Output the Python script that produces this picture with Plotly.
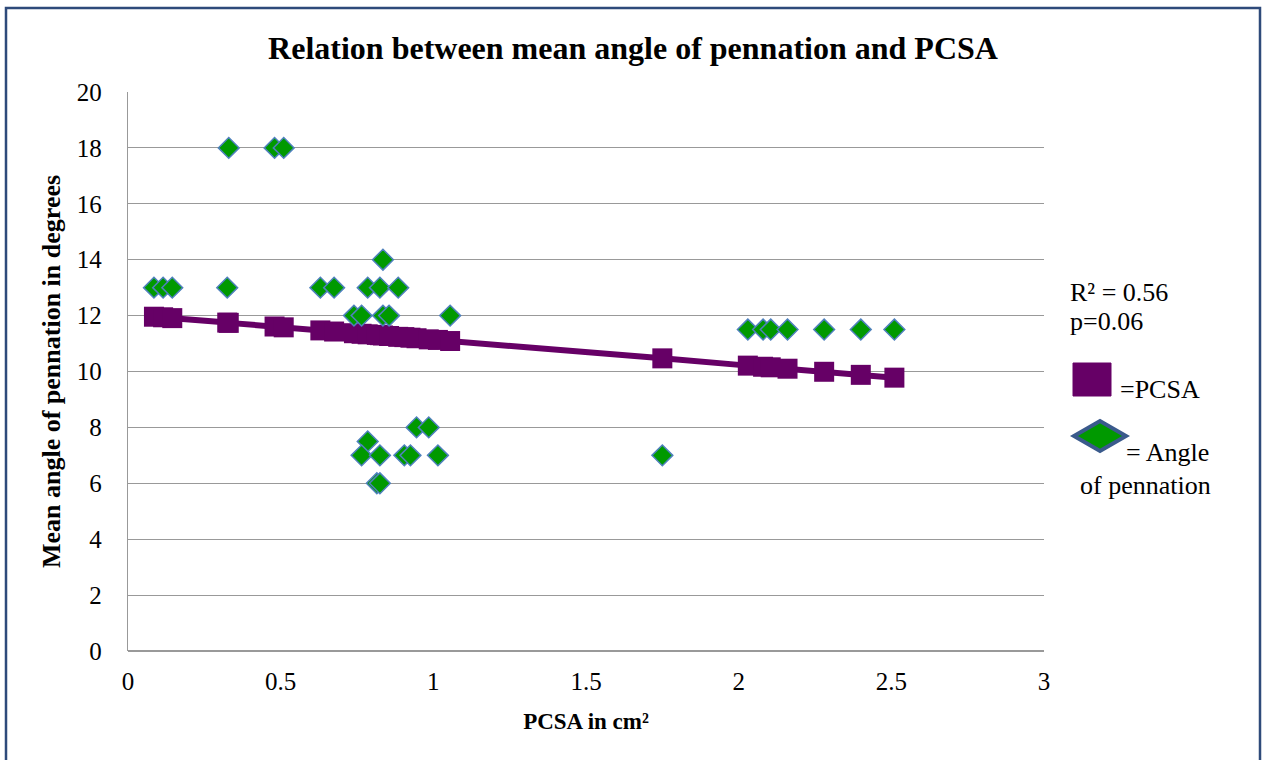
import plotly.graph_objects as go

# Angle of pennation (green diamonds): PCSA in cm² vs mean angle in degrees
angle_pcsa = [0.33, 0.48, 0.51,
              0.085, 0.115, 0.145, 0.325, 0.63, 0.675, 0.785, 0.825, 0.885,
              0.835,
              0.74, 0.765, 0.835, 0.855, 1.055,
              0.945, 0.985,
              0.785,
              0.765, 0.825, 0.905, 0.925, 1.015, 1.75,
              0.815, 0.825,
              2.03, 2.08, 2.105, 2.16, 2.28, 2.40, 2.51]
angle_deg = [18, 18, 18,
             13, 13, 13, 13, 13, 13, 13, 13, 13,
             14,
             12, 12, 12, 12, 12,
             8, 8,
             7.5,
             7, 7, 7, 7, 7, 7,
             6, 6,
             11.5, 11.5, 11.5, 11.5, 11.5, 11.5, 11.5]

# PCSA series (purple squares on the fitted line)
fit_pcsa = [0.085, 0.115, 0.145, 0.325, 0.33, 0.48, 0.51, 0.63, 0.675, 0.74,
            0.765, 0.785, 0.815, 0.825, 0.835, 0.855, 0.885, 0.905, 0.925, 0.945,
            0.985, 1.015, 1.055, 1.75, 2.03, 2.08, 2.105, 2.16, 2.28, 2.40, 2.51]
fit_deg = [11.96, 11.94, 11.91, 11.75, 11.74, 11.61, 11.58, 11.47, 11.43, 11.37,
           11.35, 11.33, 11.31, 11.30, 11.29, 11.27, 11.24, 11.23, 11.21, 11.19,
           11.15, 11.13, 11.09, 10.47, 10.21, 10.17, 10.15, 10.10, 9.99, 9.88, 9.78]

x_ticks = [0, 0.5, 1, 1.5, 2, 2.5, 3]
x_labels = ["0", "0.5", "1", "1.5", "2", "2.5", "3"]
y_ticks = [0, 2, 4, 6, 8, 10, 12, 14, 16, 18, 20]
y_labels = [str(v) for v in y_ticks]

FONT = "Liberation Serif, serif"
PURPLE = "#660066"
GREEN = "#009900"
EDGE = "#4F81BD"

# plot area in page pixels: left 128, right 1044, top 92, bottom 651
L, R, T, B = 128, 1044, 92, 651
W, H = R - L, B - T


def px(x):
    return (x - L) / W


def py(y):
    return (B - y) / H


fig = go.Figure()

fig.add_trace(go.Scatter(
    x=fit_pcsa, y=fit_deg,
    mode="lines+markers",
    line=dict(color=PURPLE, width=6),
    marker=dict(symbol="square", size=20, color=PURPLE),
    name="=PCSA",
    showlegend=False,
))

fig.add_trace(go.Scatter(
    x=angle_pcsa, y=angle_deg,
    mode="markers",
    marker=dict(symbol="diamond", size=16, color=GREEN, line=dict(color=EDGE, width=1.5)),
    name="= Angle of pennation",
    showlegend=False,
))

fig.update_layout(
    xaxis=dict(
        range=[0, 3], tickmode="array", tickvals=x_ticks, ticktext=x_labels,
        showgrid=False, zeroline=False, showline=False,
        ticks="", ticklabelstandoff=13,
        tickfont=dict(family=FONT, size=25, color="black"),
        title=dict(text="<b>PCSA in cm²</b>", font=dict(family=FONT, size=23, color="black"), standoff=18),
    ),
    yaxis=dict(
        range=[0, 20], tickmode="array", tickvals=y_ticks, ticktext=y_labels,
        showgrid=True, gridcolor="#999999", gridwidth=1.3,
        zeroline=True, zerolinecolor="#999999", zerolinewidth=1.5,
        showline=True, linecolor="#999999", linewidth=1.3,
        ticks="", ticklabelstandoff=20,
        tickfont=dict(family=FONT, size=25, color="black"),
        title=dict(text="<b>Mean angle of pennation in degrees</b>", font=dict(family=FONT, size=26, color="black"), standoff=8),
    ),
)

# Outer frame
fig.add_shape(type="rect", xref="paper", yref="paper",
              x0=px(6), x1=px(1260), y0=py(790), y1=py(8),
              line=dict(color="#2E4A7A", width=2.5), fillcolor="rgba(0,0,0,0)", layer="below")

# Right-hand notes and legend
notes = [
    ("R² = 0.56", 1068, 292),
    ("p=0.06", 1068, 321),
    ("=PCSA", 1118, 389),
    ("= Angle", 1124, 452),
    ("of pennation", 1078, 485),
]
for text, nx, ny in notes:
    fig.add_annotation(text=text, xref="paper", yref="paper",
                       x=px(nx), y=py(ny),
                       xanchor="left", yanchor="middle", showarrow=False,
                       font=dict(family=FONT, size=26, color="black"))

fig.add_shape(type="rect", xref="paper", yref="paper",
              x0=px(1073), x1=px(1111), y0=py(396), y1=py(363),
              line=dict(color=PURPLE, width=1), fillcolor=PURPLE)
fig.add_shape(type="path", xref="paper", yref="paper",
              path="M {a},{m} L {b},{t} L {c},{m} L {b},{bt} Z".format(
                  a=px(1074), b=px(1100), c=px(1126),
                  m=py(436), t=py(421), bt=py(451)),
              line=dict(color="#3A5A8C", width=4), fillcolor=GREEN)

fig.update_layout(
    width=1266, height=760,
    margin=dict(l=L, r=1266 - R, t=T, b=760 - B),
    paper_bgcolor="white", plot_bgcolor="white",
    font=dict(family=FONT, size=25, color="black"),
    title=dict(text="<b>Relation between mean angle of pennation and PCSA</b>",
               x=0.5, xanchor="center", y=1 - 48 / 760, yanchor="middle",
               font=dict(family=FONT, size=32, color="black")),
    showlegend=False,
)

fig.write_html("out.html", config={"displayModeBar": False},
               post_script="document.body.style.margin='0px';")
